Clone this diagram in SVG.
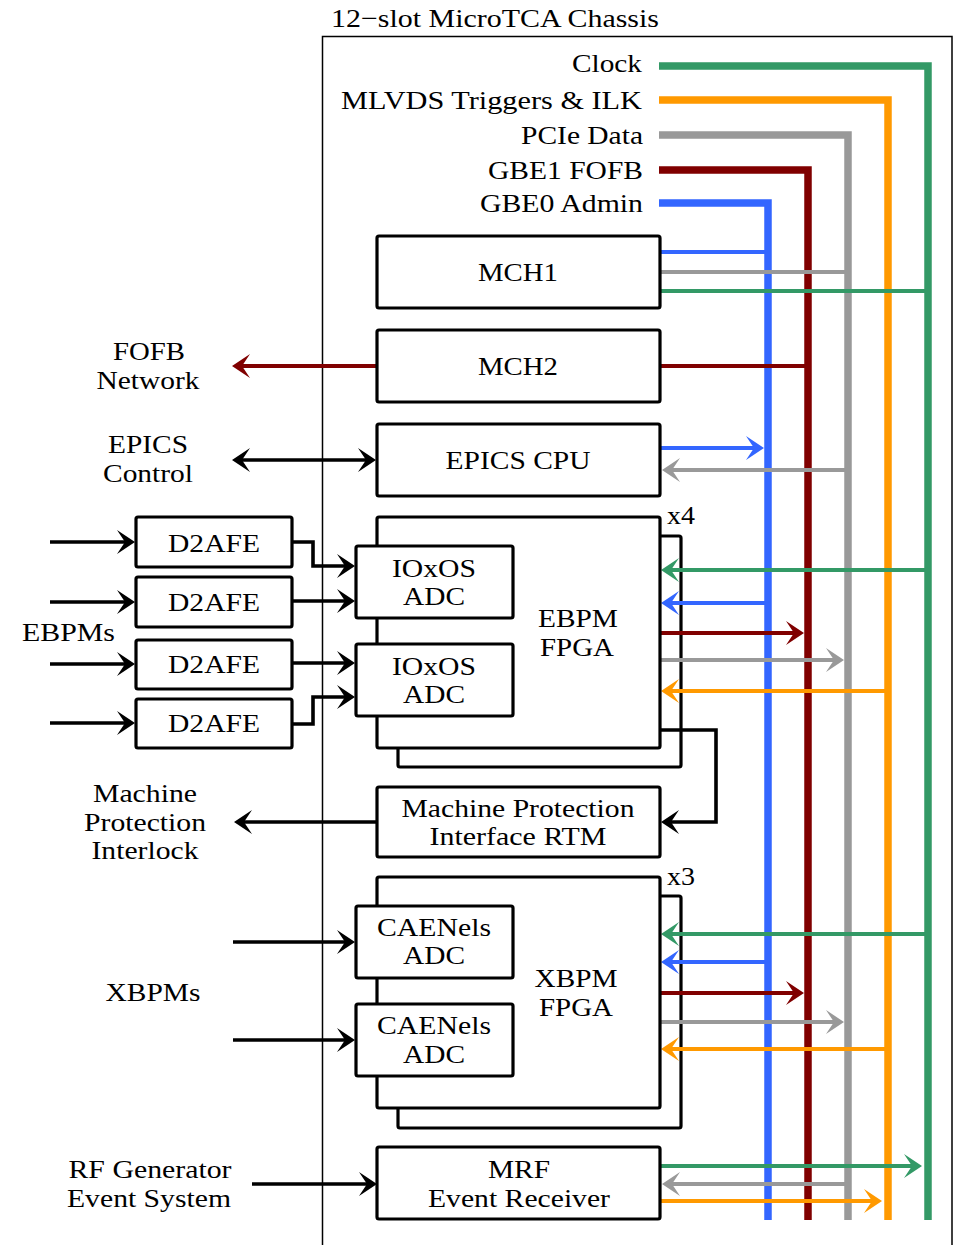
<svg xmlns="http://www.w3.org/2000/svg" width="955" height="1245" viewBox="0 0 955 1245">
<style>
text{font-family:"Liberation Serif","Times New Roman",serif;font-size:26px;fill:#000;lengthAdjust:spacingAndGlyphs}
.m{text-anchor:middle}
.e{text-anchor:end}
.box{fill:#fff;stroke:#000;stroke-width:3.2}
.bus{fill:none;stroke-width:7.5;stroke-linejoin:miter}
.c{fill:none;stroke-width:4}
.k{fill:none;stroke:#000;stroke-width:3.6}
.blue{stroke:#3366ff}.red{stroke:#800000}.gray{stroke:#999999}.org{stroke:#ff9900}.grn{stroke:#339966}
</style>
<defs>
<marker id="aK" viewBox="-20 -13 21 26" markerWidth="21" markerHeight="26" refX="-8" refY="0" orient="auto-start-reverse" markerUnits="userSpaceOnUse"><path d="M0,0 L-18,-12 L-10,0 L-18,12 Z" fill="#000"/></marker>
<marker id="aB" viewBox="-20 -13 21 26" markerWidth="21" markerHeight="26" refX="-8" refY="0" orient="auto" markerUnits="userSpaceOnUse"><path d="M0,0 L-18,-12 L-10,0 L-18,12 Z" fill="#3366ff"/></marker>
<marker id="aR" viewBox="-20 -13 21 26" markerWidth="21" markerHeight="26" refX="-8" refY="0" orient="auto" markerUnits="userSpaceOnUse"><path d="M0,0 L-18,-12 L-10,0 L-18,12 Z" fill="#800000"/></marker>
<marker id="aG" viewBox="-20 -13 21 26" markerWidth="21" markerHeight="26" refX="-8" refY="0" orient="auto" markerUnits="userSpaceOnUse"><path d="M0,0 L-18,-12 L-10,0 L-18,12 Z" fill="#999999"/></marker>
<marker id="aO" viewBox="-20 -13 21 26" markerWidth="21" markerHeight="26" refX="-8" refY="0" orient="auto" markerUnits="userSpaceOnUse"><path d="M0,0 L-18,-12 L-10,0 L-18,12 Z" fill="#ff9900"/></marker>
<marker id="aN" viewBox="-20 -13 21 26" markerWidth="21" markerHeight="26" refX="-8" refY="0" orient="auto" markerUnits="userSpaceOnUse"><path d="M0,0 L-18,-12 L-10,0 L-18,12 Z" fill="#339966"/></marker>
</defs>
<rect width="955" height="1245" fill="#fff"/>

<g id="chassis">
<path d="M322.5,1245 V36.5 H952 V1245" fill="none" stroke="#000" stroke-width="1.5"/>
<text x="331" y="27" textLength="328" lengthAdjust="spacingAndGlyphs">12−slot MicroTCA Chassis</text>
</g>

<g id="bus-labels">
<text class="e" x="642" y="72" textLength="70" lengthAdjust="spacingAndGlyphs">Clock</text>
<text class="e" x="642" y="109" textLength="301" lengthAdjust="spacingAndGlyphs">MLVDS Triggers &amp; ILK</text>
<text class="e" x="643" y="144" textLength="122" lengthAdjust="spacingAndGlyphs">PCIe Data</text>
<text class="e" x="643" y="179" textLength="155" lengthAdjust="spacingAndGlyphs">GBE1 FOFB</text>
<text class="e" x="643" y="212" textLength="163" lengthAdjust="spacingAndGlyphs">GBE0 Admin</text>
</g>

<g id="ebpm-back"><rect class="box" x="398" y="536" width="283" height="231" rx="2"/></g>
<g id="xbpm-back"><rect class="box" x="398" y="896" width="283" height="232" rx="2"/></g>

<g id="connectors">
<path class="bus grn" d="M659,66 H928 V1220"/>
<path class="bus org" d="M659,100 H888 V1220"/>
<path class="bus gray" d="M659,135 H848 V1220"/>
<path class="bus red" d="M659,170 H808 V1220"/>
<path class="bus blue" d="M659,203 H768 V1220"/>
<path class="c blue" d="M660,252 H768"/>
<path class="c gray" d="M660,272 H848"/>
<path class="c grn" d="M660,291 H928"/>
<path class="c red" d="M660,366 H808"/>
<path class="c red" d="M377,366 H240" marker-end="url(#aR)"/>
<path class="c blue" d="M660,448 H756" marker-end="url(#aB)"/>
<path class="c gray" d="M848,470 H670" marker-end="url(#aG)"/>
<path class="k" d="M240,460 H368" marker-start="url(#aK)" marker-end="url(#aK)"/>
<path class="c grn" d="M928,570 H669" marker-end="url(#aN)"/>
<path class="c blue" d="M768,603 H669" marker-end="url(#aB)"/>
<path class="c red" d="M660,633 H796" marker-end="url(#aR)"/>
<path class="c gray" d="M660,660 H836" marker-end="url(#aG)"/>
<path class="c org" d="M888,691 H669" marker-end="url(#aO)"/>
<path class="k" d="M50,542 H127" marker-end="url(#aK)"/>
<path class="k" d="M50,602 H127" marker-end="url(#aK)"/>
<path class="k" d="M50,664 H127" marker-end="url(#aK)"/>
<path class="k" d="M50,723 H127" marker-end="url(#aK)"/>
<path class="k" d="M292,542 H313 V566 H347" marker-end="url(#aK)"/>
<path class="k" d="M292,601 H347" marker-end="url(#aK)"/>
<path class="k" d="M292,663 H347" marker-end="url(#aK)"/>
<path class="k" d="M292,724 H313 V697 H347" marker-end="url(#aK)"/>
<path class="k" d="M660,730 H716 V822 H669" marker-end="url(#aK)"/>
<path class="k" d="M377,822 H242" marker-end="url(#aK)"/>
<path class="c grn" d="M928,934 H669" marker-end="url(#aN)"/>
<path class="c blue" d="M768,962 H669" marker-end="url(#aB)"/>
<path class="c red" d="M660,993 H796" marker-end="url(#aR)"/>
<path class="c gray" d="M660,1022 H836" marker-end="url(#aG)"/>
<path class="c org" d="M888,1049 H669" marker-end="url(#aO)"/>
<path class="k" d="M233,942 H347" marker-end="url(#aK)"/>
<path class="k" d="M233,1040 H347" marker-end="url(#aK)"/>
<path class="c grn" d="M660,1166 H914" marker-end="url(#aN)"/>
<path class="c gray" d="M848,1184 H670" marker-end="url(#aG)"/>
<path class="c org" d="M660,1201 H874" marker-end="url(#aO)"/>
<path class="k" d="M252,1184 H369" marker-end="url(#aK)"/>
</g>

<g id="mch1"><rect class="box" x="377" y="236" width="283" height="72" rx="2"/>
<text class="m" x="518" y="281" textLength="80" lengthAdjust="spacingAndGlyphs">MCH1</text></g>
<g id="mch2"><rect class="box" x="377" y="330" width="283" height="72" rx="2"/>
<text class="m" x="518" y="375" textLength="80" lengthAdjust="spacingAndGlyphs">MCH2</text></g>
<g id="epics-cpu"><rect class="box" x="377" y="424" width="283" height="72" rx="2"/>
<text class="m" x="518" y="469" textLength="145" lengthAdjust="spacingAndGlyphs">EPICS CPU</text></g>

<g id="fofb-network">
<text class="m" x="149" y="360" textLength="72" lengthAdjust="spacingAndGlyphs">FOFB</text>
<text class="m" x="148" y="389" textLength="103" lengthAdjust="spacingAndGlyphs">Network</text></g>
<g id="epics-control">
<text class="m" x="148" y="453" textLength="80" lengthAdjust="spacingAndGlyphs">EPICS</text>
<text class="m" x="148" y="482" textLength="90" lengthAdjust="spacingAndGlyphs">Control</text></g>

<g id="ebpm-fpga"><rect class="box" x="377" y="517" width="283" height="231" rx="2"/>
<text class="m" x="578" y="627" textLength="80" lengthAdjust="spacingAndGlyphs">EBPM</text>
<text class="m" x="577" y="656" textLength="74" lengthAdjust="spacingAndGlyphs">FPGA</text>
<text x="667" y="524" textLength="28" lengthAdjust="spacingAndGlyphs">x4</text></g>
<g id="ioxos-adc-1"><rect class="box" x="356" y="546" width="157" height="72" rx="2"/>
<text class="m" x="434" y="577" textLength="84" lengthAdjust="spacingAndGlyphs">IOxOS</text>
<text class="m" x="434" y="605" textLength="62" lengthAdjust="spacingAndGlyphs">ADC</text></g>
<g id="ioxos-adc-2"><rect class="box" x="356" y="644" width="157" height="72" rx="2"/>
<text class="m" x="434" y="675" textLength="84" lengthAdjust="spacingAndGlyphs">IOxOS</text>
<text class="m" x="434" y="703" textLength="62" lengthAdjust="spacingAndGlyphs">ADC</text></g>

<g id="d2afe-1"><rect class="box" x="136" y="517" width="156" height="50" rx="2"/>
<text class="m" x="214" y="552" textLength="92" lengthAdjust="spacingAndGlyphs">D2AFE</text></g>
<g id="d2afe-2"><rect class="box" x="136" y="577" width="156" height="50" rx="2"/>
<text class="m" x="214" y="611" textLength="92" lengthAdjust="spacingAndGlyphs">D2AFE</text></g>
<g id="d2afe-3"><rect class="box" x="136" y="640" width="156" height="49" rx="2"/>
<text class="m" x="214" y="673" textLength="92" lengthAdjust="spacingAndGlyphs">D2AFE</text></g>
<g id="d2afe-4"><rect class="box" x="136" y="699" width="156" height="49" rx="2"/>
<text class="m" x="214" y="732" textLength="92" lengthAdjust="spacingAndGlyphs">D2AFE</text></g>
<g id="ebpms"><text x="22" y="641" textLength="93" lengthAdjust="spacingAndGlyphs">EBPMs</text></g>

<g id="mp-rtm"><rect class="box" x="377" y="787" width="283" height="70" rx="2"/>
<text class="m" x="518" y="817" textLength="233" lengthAdjust="spacingAndGlyphs">Machine Protection</text>
<text class="m" x="518" y="845" textLength="177" lengthAdjust="spacingAndGlyphs">Interface RTM</text></g>
<g id="mp-interlock">
<text class="m" x="145" y="802" textLength="104" lengthAdjust="spacingAndGlyphs">Machine</text>
<text class="m" x="145" y="831" textLength="122" lengthAdjust="spacingAndGlyphs">Protection</text>
<text class="m" x="145" y="859" textLength="107" lengthAdjust="spacingAndGlyphs">Interlock</text></g>

<g id="xbpm-fpga"><rect class="box" x="377" y="877" width="283" height="231" rx="2"/>
<text class="m" x="576" y="987" textLength="83" lengthAdjust="spacingAndGlyphs">XBPM</text>
<text class="m" x="576" y="1016" textLength="74" lengthAdjust="spacingAndGlyphs">FPGA</text>
<text x="667" y="885" textLength="28" lengthAdjust="spacingAndGlyphs">x3</text></g>
<g id="caenels-adc-1"><rect class="box" x="356" y="906" width="157" height="72" rx="2"/>
<text class="m" x="434" y="936" textLength="114" lengthAdjust="spacingAndGlyphs">CAENels</text>
<text class="m" x="434" y="964" textLength="62" lengthAdjust="spacingAndGlyphs">ADC</text></g>
<g id="caenels-adc-2"><rect class="box" x="356" y="1004" width="157" height="72" rx="2"/>
<text class="m" x="434" y="1034" textLength="114" lengthAdjust="spacingAndGlyphs">CAENels</text>
<text class="m" x="434" y="1063" textLength="62" lengthAdjust="spacingAndGlyphs">ADC</text></g>
<g id="xbpms"><text class="m" x="153" y="1001" textLength="95" lengthAdjust="spacingAndGlyphs">XBPMs</text></g>

<g id="mrf-evr"><rect class="box" x="377" y="1147" width="283" height="72" rx="2"/>
<text class="m" x="519" y="1178" textLength="62" lengthAdjust="spacingAndGlyphs">MRF</text>
<text class="m" x="519" y="1207" textLength="182" lengthAdjust="spacingAndGlyphs">Event Receiver</text></g>
<g id="rf-generator">
<text class="m" x="150" y="1178" textLength="163" lengthAdjust="spacingAndGlyphs">RF Generator</text>
<text class="m" x="149" y="1207" textLength="164" lengthAdjust="spacingAndGlyphs">Event System</text></g>
</svg>
